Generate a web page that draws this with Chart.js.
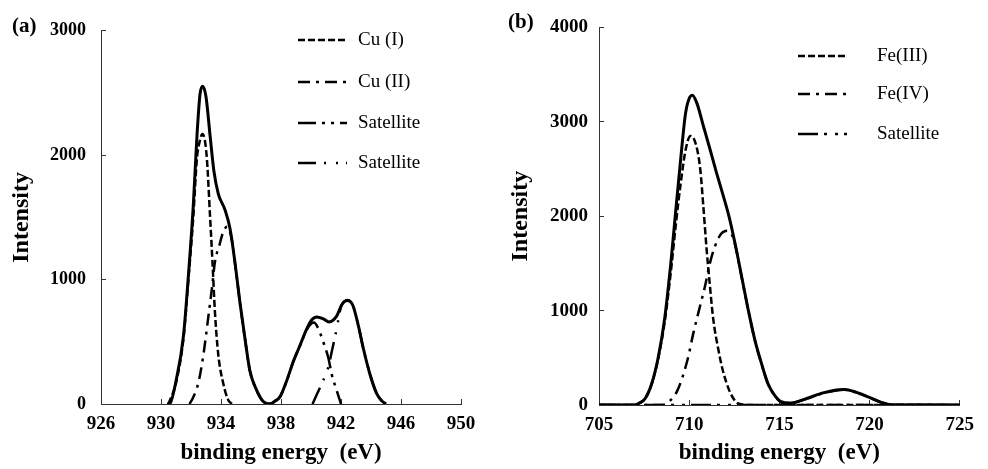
<!DOCTYPE html>
<html>
<head>
<meta charset="utf-8">
<script src="https://cdn.jsdelivr.net/npm/chart.js@4.4.1/dist/chart.umd.min.js"></script>
<style>
html, body { margin: 0; padding: 0; background: #fff; }
body { width: 988px; height: 469px; position: relative; overflow: hidden; font-family: "Liberation Serif", "Times New Roman", serif; }
.panel { position: absolute; top: 0; width: 494px; height: 469px; }
.tag { position: absolute; font-weight: bold; font-size: 21px; line-height: 24px; color: #000; }
</style>
</head>
<body>
<div class="panel" style="left:0"><canvas id="chartA"></canvas></div>
<div class="panel" style="left:494px"><canvas id="chartB"></canvas></div>
<div class="tag" style="left:12px;top:13px">(a)</div>
<div class="tag" style="left:508px;top:9px">(b)</div>
<script>
// (a) Cu 2p spectrum - binding energy (eV) / intensity
const aEnvE = [930.4, 930.6, 931.0, 931.5, 931.8, 932.15, 932.4, 932.6, 932.78, 933.0, 933.27, 933.53, 933.82, 934.27, 934.6, 934.95, 935.27, 935.6, 935.93, 936.38, 936.82, 937.3, 937.6, 937.93, 938.38, 938.82, 939.27, 939.71, 940.04, 940.38, 940.82, 941.2, 941.71, 942.04, 942.42, 942.78, 943.16, 943.49, 943.93, 944.38, 944.71, 945.0];
const aEnvI = [0, 5, 185, 550, 990, 1590, 2160, 2490, 2555, 2470, 2160, 1870, 1690, 1560, 1410, 1120, 810, 525, 265, 110, 20, 0, 25, 57, 187, 342, 472, 602, 675, 700, 685, 660, 706, 796, 835, 796, 628, 446, 239, 83, 26, 0];

const aCu1E = [930.5, 931.0, 931.5, 931.8, 932.15, 932.4, 932.6, 932.76, 933.04, 933.27, 933.44, 933.6, 933.82, 934.16, 934.49, 934.75];
const aCu1I = [0, 170, 530, 960, 1500, 1980, 2120, 2170, 2000, 1510, 1120, 730, 395, 160, 30, 0];

const aCu2E = [931.9, 932.15, 932.5, 932.82, 933.16, 933.38, 933.6, 933.89, 934.11, 934.4, 934.7, 934.95, 935.27, 935.6, 935.93, 936.38, 936.82, 937.3];
const aCu2I = [0, 55, 175, 390, 705, 915, 1145, 1275, 1370, 1425, 1335, 1115, 805, 522, 263, 108, 20, 0];

const aSat1E = [937.3, 937.93, 938.38, 938.82, 939.27, 939.71, 940.04, 940.2, 940.45, 940.82, 941.16, 941.38, 941.71, 942.0];
const aSat1I = [0, 57, 187, 342, 470, 595, 650, 655, 615, 498, 368, 240, 110, 0];

const aSat2E = [940.1, 940.4, 940.8, 941.15, 941.4, 941.7, 942.0, 942.42, 942.78, 943.16, 943.49, 943.93, 944.38, 944.71, 945.0];
const aSat2I = [0, 80, 185, 295, 430, 596, 780, 830, 796, 628, 446, 239, 83, 26, 0];

// (b) Fe 2p spectrum
const bEnvE = [705, 707.0, 707.2, 707.56, 707.92, 708.28, 708.64, 709.0, 709.27, 709.53, 709.8, 710.04, 710.18, 710.43, 710.79, 711.15, 711.5, 711.87, 712.22, 712.58, 712.94, 713.3, 713.66, 714.02, 714.37, 714.73, 715.09, 715.6, 716.52, 717.42, 718.32, 718.6, 719.21, 719.93, 720.65, 721.2, 725];
const bEnvI = [0, 0, 17, 69, 225, 501, 915, 1537, 2090, 2608, 3092, 3264, 3282, 3195, 2953, 2712, 2470, 2228, 1987, 1676, 1330, 984, 674, 432, 225, 104, 35, 20, 69, 128, 162, 163, 138, 86, 28, 3, 0];

const bFe3E = [705, 707.0, 707.2, 707.56, 707.92, 708.28, 708.64, 709.0, 709.27, 709.53, 709.8, 710.07, 710.34, 710.61, 710.79, 710.97, 711.15, 711.33, 711.6, 711.87, 712.22, 712.58, 712.94, 713.3, 725];
const bFe3I = [0, 0, 17, 69, 222, 490, 880, 1440, 1930, 2350, 2700, 2850, 2780, 2505, 2090, 1640, 1261, 915, 604, 363, 155, 35, 5, 0, 0];

const bFe4E = [705, 708.5, 708.9, 709.35, 709.89, 710.25, 710.61, 710.88, 711.15, 711.42, 711.77, 712.1, 712.4, 712.58, 712.94, 713.3, 713.66, 714.02, 714.37, 714.73, 715.09, 715.6, 725];
const bFe4I = [0, 0, 40, 155, 466, 777, 1054, 1261, 1503, 1676, 1813, 1845, 1790, 1670, 1325, 980, 670, 430, 222, 100, 30, 0, 0];

const bSatE = [705, 715.0, 715.6, 716.52, 717.42, 718.32, 718.6, 719.21, 719.93, 720.65, 721.2, 722.0, 725];
const bSatI = [0, 0, 15, 65, 125, 160, 163, 136, 85, 27, 3, 0, 0];

const aLabels = ['Cu (I)', 'Cu (II)', 'Satellite', 'Satellite'];
const bLabels = ['Fe(III)', 'Fe(IV)', 'Satellite'];

const SERIF = '"Liberation Serif", "Times New Roman", serif';

function pts(xs, ys) {
    return xs.map((x, i) => ({ x: x, y: ys[i] }));
}

function line(label, xs, ys, dash, width) {
    return {
        label: label,
        data: pts(xs, ys),
        borderColor: '#000',
        borderWidth: width,
        borderDash: dash,
        pointRadius: 0,
        fill: false,
        cubicInterpolationMode: 'monotone'
    };
}

// legend drawn as a short line sample next to each label
const lineLegend = {
    id: 'lineLegend',
    afterDatasetsDraw(chart, args, opts) {
        const ctx = chart.ctx;
        ctx.save();
        ctx.font = '19px ' + SERIF;
        ctx.textBaseline = 'middle';
        ctx.fillStyle = '#000';
        ctx.strokeStyle = '#000';
        opts.rows.forEach((y, i) => {
            const ds = chart.data.datasets[i + 1];
            ctx.setLineDash(ds.borderDash || []);
            ctx.lineWidth = ds.borderWidth;
            ctx.beginPath();
            ctx.moveTo(opts.x0, y);
            ctx.lineTo(opts.x1, y);
            ctx.stroke();
            ctx.setLineDash([]);
            ctx.fillText(ds.label, opts.textX, y);
        });
        ctx.restore();
    }
};

function makeOptions(cfg) {
    return {
        responsive: true,
        maintainAspectRatio: false,
        animation: false,
        layout: { padding: { top: cfg.top, right: cfg.right, bottom: 0, left: 0 } },
        plugins: {
            legend: { display: false },
            tooltip: { enabled: false },
            lineLegend: cfg.legend
        },
        scales: {
            x: {
                type: 'linear',
                min: cfg.xMin,
                max: cfg.xMax,
                afterFit: (s) => { s.height = cfg.xHeight; },
                ticks: {
                    stepSize: cfg.xStep,
                    color: '#000',
                    padding: 14,
                    maxRotation: 0,
                    callback: (v) => String(v),
                    font: { family: SERIF, size: 19, weight: 'bold' }
                },
                grid: { drawOnChartArea: false, drawTicks: true, tickLength: -5, color: '#333' },
                border: { color: '#333', width: 1 },
                title: {
                    display: true,
                    text: 'binding energy  (eV)',
                    color: '#000',
                    padding: { top: 0, bottom: 2 },
                    font: { family: SERIF, size: 23, weight: 'bold' }
                }
            },
            y: {
                min: 0,
                max: cfg.yMax,
                afterFit: (s) => { s.width = cfg.yWidth; },
                ticks: {
                    stepSize: 1000,
                    color: '#000',
                    padding: cfg.yPad,
                    callback: (v) => String(v),
                    font: { family: SERIF, size: cfg.yFont, weight: 'bold' }
                },
                grid: { drawOnChartArea: false, drawTicks: true, tickLength: -5, color: '#333' },
                border: { color: '#333', width: 1 },
                title: {
                    display: true,
                    text: 'Intensity',
                    color: '#000',
                    padding: { top: cfg.yTitlePad, bottom: 0 },
                    font: { family: SERIF, size: 24, weight: 'bold' }
                }
            }
        }
    };
}

new Chart(document.getElementById('chartA'), {
    type: 'line',
    data: {
        datasets: [
            line('envelope', aEnvE, aEnvI, [], 3),
            line(aLabels[0], aCu1E, aCu1I, [7, 3], 2.5),
            line(aLabels[1], aCu2E, aCu2I, [12, 6, 3, 6], 2.5),
            line(aLabels[2], aSat1E, aSat1I, [18, 6, 3, 6, 3, 6], 2.5),
            line(aLabels[3], aSat2E, aSat2I, [18, 8, 2, 10, 2, 8], 2.5)
        ]
    },
    options: makeOptions({
        top: 19, right: 33, xHeight: 65, yWidth: 101, yPad: 20, yFont: 18, yTitlePad: 7,
        xMin: 926, xMax: 950, xStep: 4, yMax: 3000,
        legend: { x0: 298, x1: 347, textX: 358, rows: [40, 82, 123, 163] }
    }),
    plugins: [lineLegend]
});

new Chart(document.getElementById('chartB'), {
    type: 'line',
    data: {
        datasets: [
            line('envelope', bEnvE, bEnvI, [], 3),
            line(bLabels[0], bFe3E, bFe3I, [7, 3], 2.5),
            line(bLabels[1], bFe4E, bFe4I, [12, 6, 3, 6], 2.5),
            line(bLabels[2], bSatE, bSatI, [20, 6, 3, 8, 3, 6], 2.5)
        ]
    },
    options: makeOptions({
        top: 19, right: 17, xHeight: 64, yWidth: 105, yPad: 16, yFont: 19, yTitlePad: 12,
        xMin: 705, xMax: 725, xStep: 5, yMax: 4000,
        legend: { x0: 304, x1: 353, textX: 383, rows: [56, 94, 134] }
    }),
    plugins: [lineLegend]
});
</script>
</body>
</html>
